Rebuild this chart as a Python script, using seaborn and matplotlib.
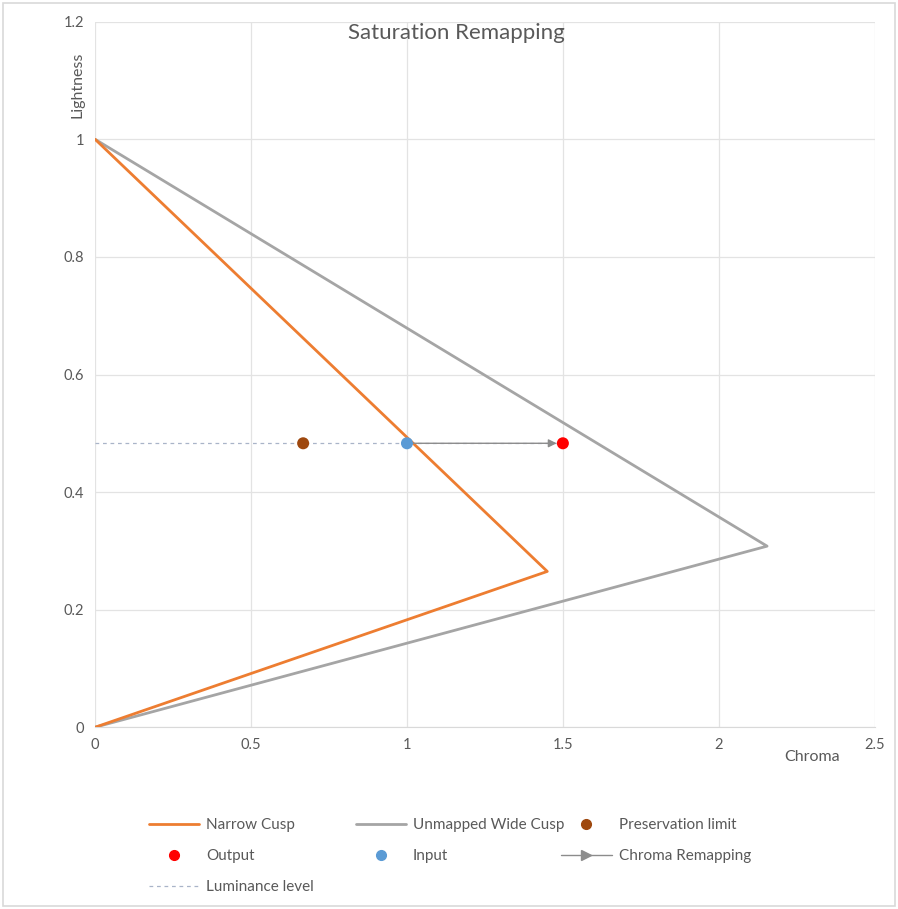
import matplotlib
matplotlib.use("Agg")
import matplotlib.pyplot as plt
import seaborn as sns
import pandas as pd
from matplotlib.lines import Line2D
from matplotlib.patches import Rectangle

sns.set_style("white")
plt.rcParams['font.family'] = ['Lato', 'DejaVu Sans']

narrow_c = [0, 1.45, 0]
narrow_l = [1.0, 0.265, 0]
wide_c = [0, 2.155, 0]
wide_l = [1.0, 0.308, 0]
lum_level = 0.483
pres_c = 0.667
input_c = 1.0
output_c = 1.5
arrow_end = 1.48

xticks = [0, 0.5, 1, 1.5, 2, 2.5]
xticklabels = ["0", "0.5", "1", "1.5", "2", "2.5"]
yticks = [0, 0.2, 0.4, 0.6, 0.8, 1.0, 1.2]
yticklabels = ["0", "0.2", "0.4", "0.6", "0.8", "1", "1.2"]

orange = "#ED7D31"
grey = "#A5A5A5"
brown = "#9E480E"
red = "#FF0000"
blue = "#5B9BD5"
tcol = "#595959"

fig = plt.figure(figsize=(8.98, 9.09), dpi=100)
ax = fig.add_axes([0.106, 0.2, 0.868, 0.776])

df_n = pd.DataFrame({"c": narrow_c, "l": narrow_l})
df_w = pd.DataFrame({"c": wide_c, "l": wide_l})
sns.lineplot(data=df_w, x="c", y="l", sort=False, estimator=None, color=grey, lw=2.0, ax=ax, zorder=3)
sns.lineplot(data=df_n, x="c", y="l", sort=False, estimator=None, color=orange, lw=2.0, ax=ax, zorder=4)

# luminance level dashed
ax.plot([0, output_c], [lum_level, lum_level], color="#A9B4C8", lw=0.9, ls=(0, (3, 3)), zorder=2)
# chroma remapping arrow
ax.annotate("", xy=(arrow_end, lum_level), xytext=(input_c, lum_level),
            arrowprops=dict(arrowstyle="-|>", color="#8C8C8C", lw=1.0, mutation_scale=12,
                            shrinkA=0, shrinkB=0), zorder=5)

pts = pd.DataFrame({"c": [pres_c, input_c, output_c], "l": [lum_level] * 3,
                    "kind": ["Preservation limit", "Input", "Output"]})
sns.scatterplot(data=pts, x="c", y="l", hue="kind",
                palette={"Preservation limit": brown, "Input": blue, "Output": red},
                s=75, edgecolor="none", ax=ax, legend=False, zorder=6)

ax.set_xlim(0, 2.5)
ax.set_ylim(0, 1.2)
ax.set_xticks(xticks)
ax.set_xticklabels(xticklabels)
ax.set_yticks(yticks)
ax.set_yticklabels(yticklabels)
ax.grid(True, color="#E3E3E3", lw=0.9)
ax.set_axisbelow(True)
for s in ["top", "right", "left"]:
    ax.spines[s].set_visible(False)
ax.spines["bottom"].set_color("#D9D9D9")
ax.tick_params(axis="both", length=0, labelsize=10.5, labelcolor=tcol, pad=8)
ax.set_xlabel("")
ax.set_ylabel("")

fig.text(0.508, 0.964, "Saturation Remapping", ha="center", va="center", fontsize=16, color=tcol)
fig.text(0.904, 0.167, "Chroma", ha="center", va="center", fontsize=11.5, color=tcol)
fig.text(0.086, 0.907, "Lightness", ha="center", va="center", fontsize=11.5, color=tcol, rotation=90)

col1_h = [Line2D([], [], color=orange, lw=2),
          Line2D([], [], marker="o", ls="none", color=red, markersize=7),
          Line2D([], [], color="#A9B4C8", lw=0.9, ls=(0, (3, 3)))]
col1_l = ["Narrow Cusp", "Output", "Luminance level"]
col2_h = [Line2D([], [], color=grey, lw=2),
          Line2D([], [], marker="o", ls="none", color=blue, markersize=7)]
col2_l = ["Unmapped Wide Cusp", "Input"]
col3_h = [Line2D([], [], marker="o", ls="none", color=brown, markersize=7),
          Line2D([], [], color="#8C8C8C", lw=1, marker=">", markevery=[1], markersize=7)]
col3_l = ["Preservation limit", "Chroma Remapping"]

common = dict(loc="upper left", frameon=False, fontsize=11, labelcolor=tcol,
              handlelength=3.3, handletextpad=0.45, labelspacing=1.12,
              borderaxespad=0, borderpad=0)
for h, l, x in [(col1_h, col1_l, 0.166), (col2_h, col2_l, 0.396), (col3_h, col3_l, 0.625)]:
    fig.legend(h, l, bbox_to_anchor=(x, 0.1), **common)

fig.patches.append(Rectangle((0.003, 0.003), 0.994, 0.994, transform=fig.transFigure,
                             fill=False, edgecolor="#D9D9D9", lw=1.2))

fig.savefig("out.png", dpi=100, facecolor="white")
